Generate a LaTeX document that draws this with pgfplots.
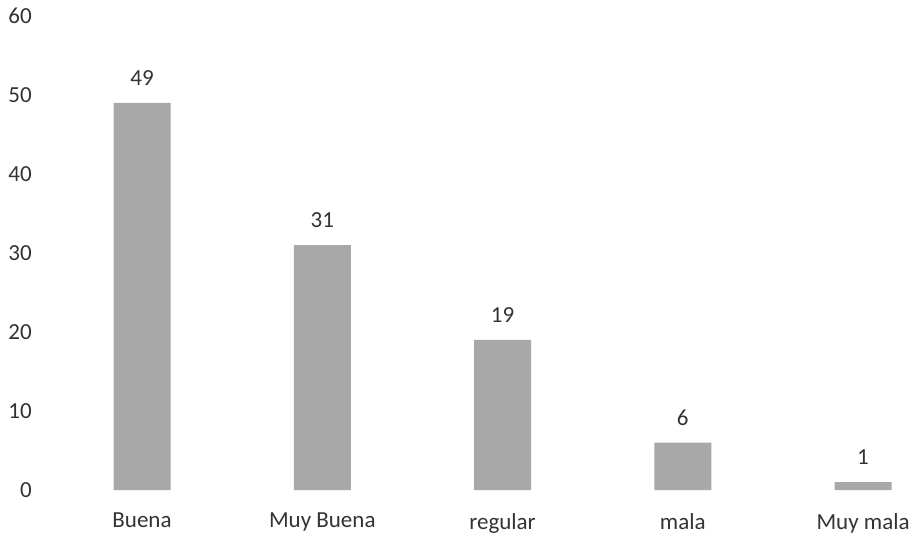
\documentclass[border=0pt]{standalone}
\usepackage{pgfplots}
\pgfplotsset{compat=1.18}
\usepackage{fontspec}
\setmainfont{Carlito}
\definecolor{txt}{gray}{0.2}
\definecolor{barc}{gray}{0.66}
\begin{document}
\begin{tikzpicture}[x=1pt,y=1pt]
\useasboundingbox (0,0) rectangle (913,542);
\begin{axis}[
  at={(51.9pt,52pt)}, anchor=south west,
  scale only axis, width=856.2pt, height=474pt,
  xmin=-0.5, xmax=4.25, ymin=0, ymax=60,
  axis line style={draw=none}, tick style={draw=none},
  major tick length=0pt,
  ytick={0,10,...,60},
  xtick=data,
  xticklabels={Buena,Muy Buena,regular,mala,Muy mala},
  /pgf/number format/assume math mode=true,
  ticklabel style={font=\fontsize{23}{27}\selectfont, text=txt, inner sep=0pt},
  yticklabel style={xshift=-20pt},
  xticklabel style={yshift=-23pt},
  ybar, bar width=57pt,
  nodes near coords,
  every node near coord/.append style={font=\fontsize{23}{27}\selectfont, text=txt, inner sep=0pt, anchor=south, yshift=17pt},
  clip=false,
]
\addplot[fill=barc, draw=none] coordinates {(0,49) (1,31) (2,19) (3,6) (4,1)};
\end{axis}
\end{tikzpicture}
\end{document}
